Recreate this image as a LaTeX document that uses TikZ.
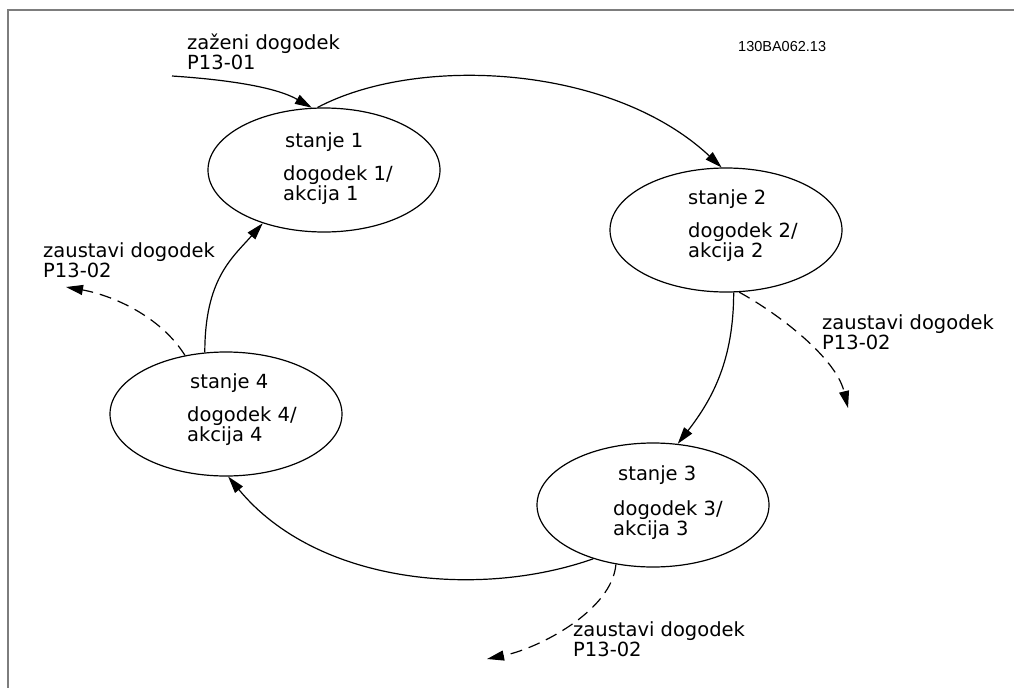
\documentclass[tikz,border=0pt]{standalone}
\usepackage{fontspec}
\setmainfont{DejaVu Sans}
\newfontfamily\idfont{Liberation Sans}
\usetikzlibrary{shapes.geometric, arrows.meta, positioning}
\definecolor{framegray}{RGB}{125,125,125}
\definecolor{inkblack}{RGB}{0,0,0}
\tikzset{
    state/.style={ellipse, draw=inkblack, line width=1.2pt, minimum width=232pt, minimum height=124pt, inner sep=0pt},
    statetext/.style={anchor=base west, inner sep=0pt, align=left, font=\fontsize{19.5}{20}\selectfont},
    note/.style={anchor=base west, inner sep=0pt, align=left, font=\fontsize{19.5}{20}\selectfont},
    arrow/.style={-{Triangle[length=17pt, width=10pt]}, inkblack, line width=1.2pt},
    stoparrow/.style={arrow, dash pattern=on 12pt off 7pt},
    frameline/.style={framegray, line width=2pt}
}
\begin{document}
\begin{tikzpicture}[x=1pt, y=-1pt]
    \useasboundingbox (0,0) rectangle (1014,688);
    \draw [frameline] (1014,9.5) -| (7.5,688);

    % states
    \node (s1) [state] at (324,170) {};
    \node (s2) [state] at (726,230) {};
    \node (s3) [state] at (653,505) {};
    \node (s4) [state] at (226,414) {};

    \node (t1) [statetext] at ([shift={(-41,30)}]s1.center) {\hspace*{2pt}stanje 1\\[13pt]dogodek 1/\\akcija 1};
    \node (t2) [statetext] at ([shift={(-38,27)}]s2.center) {stanje 2\\[13pt]dogodek 2/\\akcija 2};
    \node (t3) [statetext] at ([shift={(-40,30)}]s3.center) {\hspace*{5pt}stanje 3\\[15pt]dogodek 3/\\akcija 3};
    \node (t4) [statetext] at ([shift={(-39,27)}]s4.center) {\hspace*{3pt}stanje 4\\[13pt]dogodek 4/\\akcija 4};

    % labels
    \node (startlabel) [note] at (187,69) {zaženi dogodek\\P13-01};
    \node (code) [anchor=base west, inner sep=0pt, font=\idfont\fontsize{14.5}{16}\selectfont] at (738,51) {130BA062.13};
    \node (stoplabel4) [note] at (43,277) {zaustavi dogodek\\P13-02};
    \node (stoplabel2) [note] at (822,349) {zaustavi dogodek\\P13-02};
    \node (stoplabel3) [note] at (573,656) {zaustavi dogodek\\P13-02};

    \coordinate (in) at (172,76);
    \coordinate (out4) at (66,287);
    \coordinate (out2) at (848,408);
    \coordinate (out3) at (487,659);

    % transitions
    \draw [arrow] (in) .. controls +(60,4) and +(-35,-20) .. (s1.101);
    \draw [arrow] (s1.96) .. controls +(100,-53) and +(-110,-103) .. (s2.94);
    \draw [arrow] (s2.-83) .. controls +(0,67) and +(35,-45) .. (s3.68);
    \draw [arrow] (s3.222) .. controls +(-113,40) and +(89,108) .. (s4.272);
    \draw [arrow] (s4.109) .. controls +(0,-73) and +(-31,35) .. (s1.221);

    % stop events
    \draw [stoparrow] (s4.125) .. controls +(-25,-40) and +(45,8) .. (out4);
    \draw [stoparrow] (s2.-78) .. controls +(40,22) and +(-12,-50) .. (out2);
    \draw [stoparrow] (s3.238) .. controls +(-4,46) and +(53,-11) .. (out3);
\end{tikzpicture}
\end{document}
